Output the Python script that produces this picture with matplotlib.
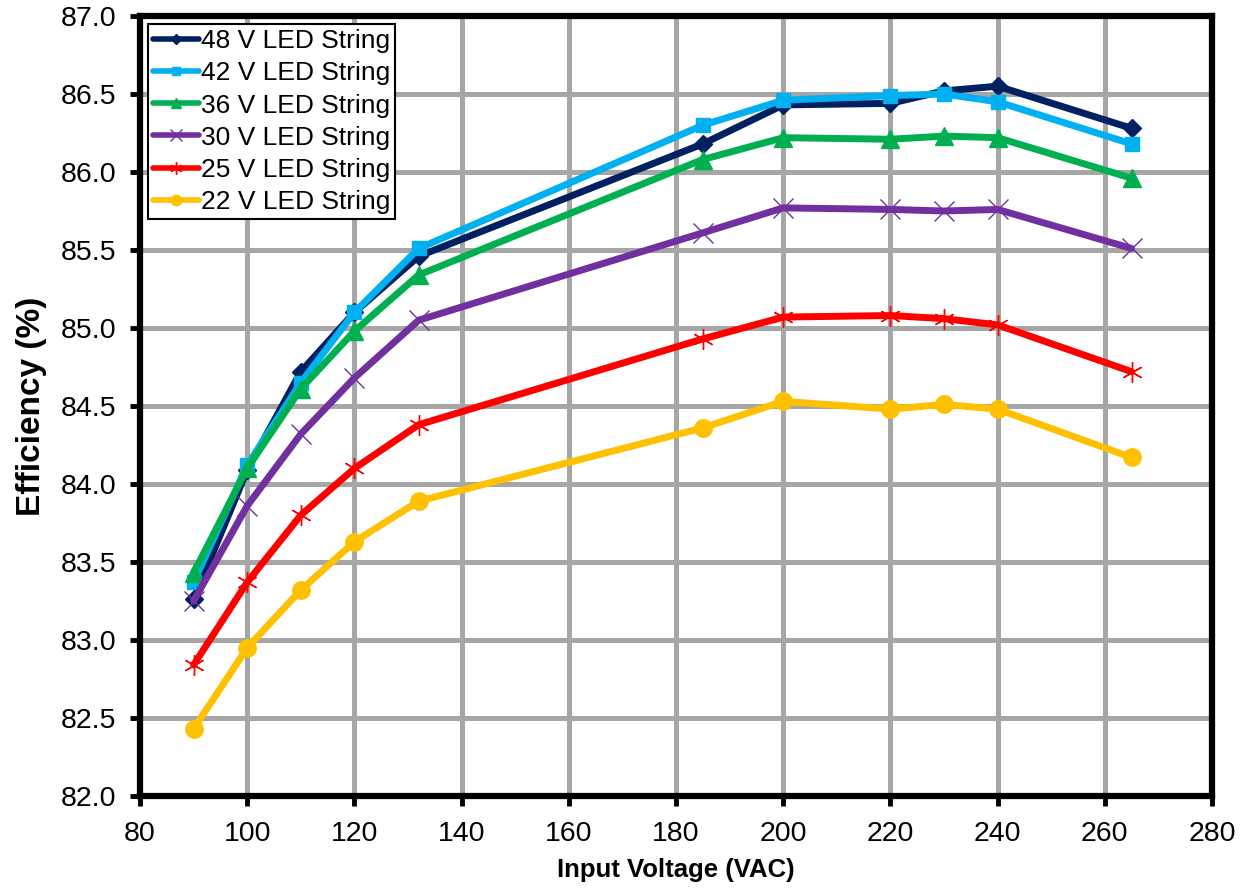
import matplotlib
matplotlib.use("Agg")
import matplotlib.pyplot as plt

plt.rcParams["font.family"] = ["Liberation Sans", "DejaVu Sans"]

vin = [90, 100, 110, 120, 132, 185, 200, 220, 230, 240, 265]

eff_48 = [83.26, 84.09, 84.72, 85.10, 85.46, 86.18, 86.43, 86.44, 86.52, 86.55, 86.28]
eff_42 = [83.37, 84.12, 84.65, 85.10, 85.51, 86.30, 86.46, 86.49, 86.50, 86.45, 86.18]
eff_36 = [83.43, 84.10, 84.61, 84.98, 85.34, 86.08, 86.22, 86.21, 86.23, 86.22, 85.96]
eff_30 = [83.25, 83.86, 84.32, 84.68, 85.05, 85.61, 85.77, 85.76, 85.75, 85.76, 85.51]
eff_25 = [82.84, 83.37, 83.80, 84.10, 84.38, 84.93, 85.07, 85.08, 85.06, 85.02, 84.72]
eff_22 = [82.43, 82.95, 83.32, 83.63, 83.89, 84.36, 84.53, 84.48, 84.51, 84.48, 84.17]

# label, values, colour, marker, marker size, marker edge width
series = [
    ("48 V LED String", eff_48, "#002060", "D", 9, 1.0),
    ("42 V LED String", eff_42, "#00B0F0", "s", 10, 1.0),
    ("36 V LED String", eff_36, "#00B050", "^", 13, 1.0),
    ("30 V LED String", eff_30, "#7030A0", "x", 14, 1.0),
    ("25 V LED String", eff_25, "#FF0000", (6, 2, 0), 15, 1.0),
    ("22 V LED String", eff_22, "#FFC000", "o", 12.5, 1.0),
]

fig = plt.figure(figsize=(12.51, 8.88), dpi=100)
ax = fig.add_axes([140 / 1251, 1 - 796 / 888, (1212 - 140) / 1251, (796 - 16) / 888])

for label, vals, color, marker, ms, mew in series:
    ax.plot(vin, vals, color=color, lw=5.0, marker=marker, ms=ms,
            mec=color, mfc=color, mew=mew, label=label, zorder=3,
            solid_capstyle="round", solid_joinstyle="round")

ax.set_xlim(80, 280)
ax.set_ylim(82.0, 87.0)
ax.set_xticks(range(80, 281, 20))
ax.set_yticks([82 + 0.5 * i for i in range(11)])
ax.set_yticklabels([f"{82 + 0.5 * i:.1f}" for i in range(11)])
ax.grid(True, color="#A6A6A6", lw=3.6, zorder=0)
ax.set_axisbelow(True)
for s in ax.spines.values():
    s.set_linewidth(4.5)
    s.set_color("black")
    s.set_zorder(5)
ax.tick_params(labelsize=20.5, length=7, width=3.5, direction="out")
ax.tick_params(axis="x", pad=11)
ax.tick_params(axis="y", pad=10)

ax.set_xlabel("Input Voltage (VAC)", fontsize=18.5, fontweight="bold", labelpad=8)
ax.set_ylabel("Efficiency (%)", fontsize=24, fontweight="bold", labelpad=10)

leg = ax.legend(loc="upper left", fontsize=19, frameon=True, fancybox=False,
                edgecolor="black", framealpha=1, borderpad=0.2,
                labelspacing=0.31, handlelength=1.75, handletextpad=0.05,
                borderaxespad=0.3, markerscale=0.6)
leg.get_frame().set_linewidth(1.5)
for line in leg.get_lines():
    line.set_linewidth(4.0)

fig.savefig("out.png", dpi=100, facecolor="white")
